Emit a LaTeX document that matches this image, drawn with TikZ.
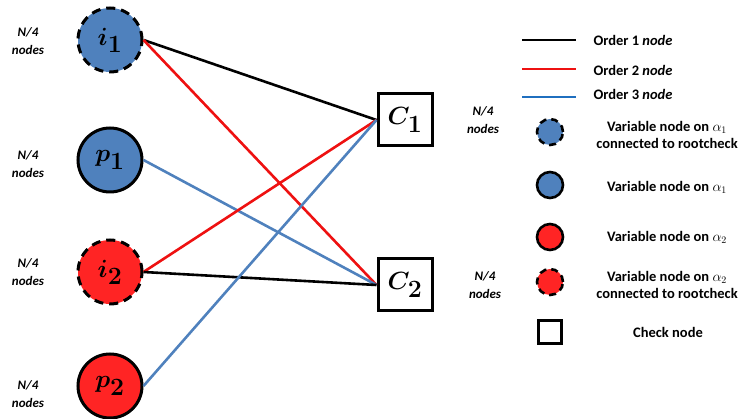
\documentclass[tikz,border=0pt]{standalone}
\usepackage{fontspec}
\setmainfont{Carlito}
\usepackage{amsmath}
\usetikzlibrary{positioning}
\definecolor{var_blue}{HTML}{4F81BD}
\definecolor{var_red}{HTML}{FF2424}
\definecolor{edge_red}{HTML}{EE1111}
\definecolor{legend_blue}{HTML}{1F6FBF}
\tikzset{
  varnode/.style={circle,draw=black,line width=3pt,minimum size=64pt,inner sep=0pt,font=\fontsize{33}{35}\selectfont\boldmath},
  varroot/.style={varnode,dash pattern=on 9pt off 6pt},
  checknode/.style={rectangle,draw=black,line width=3pt,minimum width=54pt,minimum height=52pt,inner sep=0pt,font=\fontsize{38}{40}\selectfont\boldmath},
  legvar/.style={circle,draw=black,line width=2.6pt,minimum size=26pt,inner sep=0pt},
  legroot/.style={legvar,dash pattern=on 7pt off 5pt},
  legcheck/.style={rectangle,draw=black,line width=2.6pt,minimum size=23pt,inner sep=0pt},
  quarter/.style={align=center,font=\fontsize{13}{18}\selectfont\bfseries\itshape},
  legtext/.style={align=center,font=\fontsize{14.5}{17}\selectfont\bfseries},
  order1/.style={line width=2.6pt,black},
  order2/.style={line width=2.6pt,edge_red},
  order3/.style={line width=2.6pt,var_blue},
}
\begin{document}
\begin{tikzpicture}[x=1pt,y=-1pt]
  \useasboundingbox (0,0) rectangle (740,419);
  % variable nodes
  \node[varroot,fill=var_blue] (i1) at (110,40) {$i_1$};
  \node[varnode,fill=var_blue] (p1) at (110,160) {$p_1$};
  \node[varroot,fill=var_red] (i2) at (110,272) {$i_2$};
  \node[varnode,fill=var_red] (p2) at (110,386) {$p_2$};
  \node[quarter] (ni1) at (28,41) {N/4\\nodes};
  \node[quarter] (np1) at (28,164) {N/4\\nodes};
  \node[quarter] (ni2) at (28,272) {N/4\\nodes};
  \node[quarter] (np2) at (28,394) {N/4\\nodes};
  % check nodes
  \node[checknode] (C1) at (405,120) {$C_1$};
  \node[checknode] (C2) at (405,285) {$C_2$};
  \node[quarter,right=30pt of C1] (nc1) {N/4\\nodes};
  \node[quarter,right=32pt of C2] (nc2) {N/4\\nodes};
  % edges
  \draw[order1] (i1.east) -- (C1.west);
  \draw[order2] (i1.east) -- (C2.west);
  \draw[order3] (p1.east) -- (C2.west);
  \draw[order2] (i2.east) -- (C1.west);
  \draw[order1] (i2.east) -- (C2.west);
  \draw[order3] (p2.east) -- (C1.west);
  % legend
  \coordinate (l1a) at (522,40); \coordinate (l1b) at (576,40);
  \coordinate (l2a) at (522,69); \coordinate (l2b) at (576,69);
  \coordinate (l3a) at (522,97); \coordinate (l3b) at (576,97);
  \draw[order1] (l1a) -- (l1b);
  \draw[order2] (l2a) -- (l2b);
  \draw[line width=2.6pt,legend_blue] (l3a) -- (l3b);
  \node[legtext,anchor=west] (t1) at (590,40) {Order 1 \textit{node}};
  \node[legtext,anchor=west] (t2) at (590,70) {Order 2 \textit{node}};
  \node[legtext,anchor=west] (t3) at (590,94) {Order 3 \textit{node}};
  \node[legroot,fill=var_blue] (lg1) at (550,132) {};
  \node[legvar,fill=var_blue] (lg2) at (550,185) {};
  \node[legvar,fill=var_red] (lg3) at (550,237) {};
  \node[legroot,fill=var_red] (lg4) at (550,282) {};
  \node[legcheck] (lg5) at (550,332) {};
  \node[legtext] (t4) at (667,135) {Variable node on $\alpha_1$\\connected to rootcheck};
  \node[legtext] (t5) at (667,187) {Variable node on $\alpha_1$};
  \node[legtext] (t6) at (667,237) {Variable node on $\alpha_2$};
  \node[legtext] (t7) at (667,285) {Variable node on $\alpha_2$\\connected to rootcheck};
  \node[legtext] (t8) at (668,332) {Check node};
\end{tikzpicture}
\end{document}
